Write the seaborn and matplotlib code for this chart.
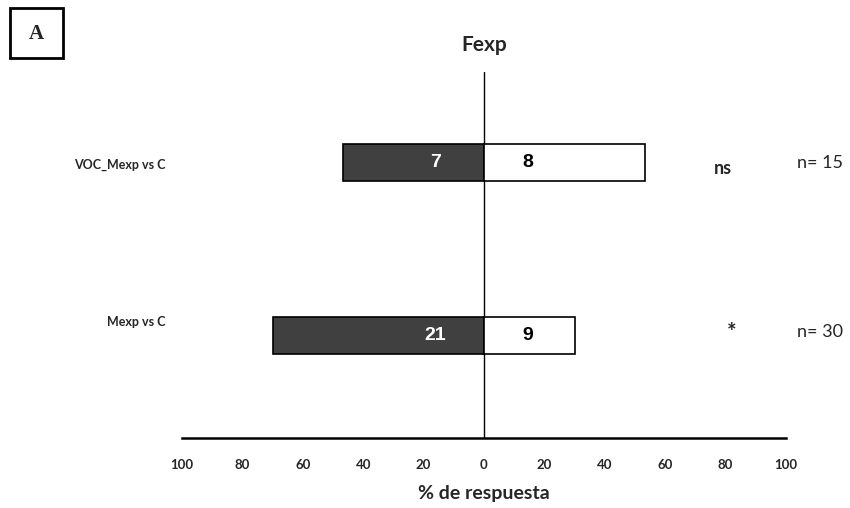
import matplotlib
matplotlib.use("Agg")
import matplotlib.pyplot as plt
import seaborn as sns
import pandas as pd
from matplotlib.patches import Rectangle
from matplotlib.ticker import FuncFormatter

categories = ["VOC_Mexp vs C", "Mexp vs C"]
left_counts = [7, 21]
right_counts = [8, 9]
totals = [15, 30]
signif = ["ns", "*"]
n_labels = ["n= 15", "n= 30"]
tick_values = [-100, -80, -60, -40, -20, 0, 20, 40, 60, 80, 100]

rows = []
for c, l, r, t in zip(categories, left_counts, right_counts, totals):
    rows.append({"cat": c, "side": "left", "pct": -100.0 * l / t})
    rows.append({"cat": c, "side": "right", "pct": 100.0 * r / t})
df = pd.DataFrame(rows)

sns.set_style("white")
plt.rcParams["font.family"] = ["Lato", "DejaVu Sans"]

fig = plt.figure(figsize=(8.5, 5.08), dpi=100)
ax = fig.add_axes([182 / 850, 1 - 438 / 508, 604 / 850, 366 / 508])

sns.barplot(data=df, x="pct", y="cat", hue="side", order=categories,
            palette={"left": "#404040", "right": "#ffffff"}, dodge=False,
            orient="h", width=0.214, edgecolor="black", linewidth=1.2,
            legend=False, ax=ax)

ax.set_xlim(-100, 100)
ax.set_ylim(1.59, -0.526)
ax.axvline(0, color="black", lw=1, zorder=0)

for s in ["top", "right", "left"]:
    ax.spines[s].set_visible(False)
ax.spines["bottom"].set_linewidth(1.8)
ax.spines["bottom"].set_color("black")

ax.set_xticks(tick_values)
ax.xaxis.set_major_formatter(FuncFormatter(lambda v, p: f"{abs(int(v))}"))
ax.tick_params(axis="x", length=0, pad=15, labelsize=9.5)
for lab in ax.get_xticklabels():
    lab.set_fontweight("bold")
ax.set_yticks([])
ax.set_ylabel("")
ax.set_xlabel("% de respuesta", fontsize=14, fontweight="bold", labelpad=10)
ax.set_title("Fexp", fontsize=15, fontweight="bold", pad=15)

label_dy = [0.01, -0.08]
for i, (c, l, r) in enumerate(zip(categories, left_counts, right_counts)):
    ax.text(-16, i, str(l), color="white", ha="center", va="center",
            fontsize=14, fontweight="bold", family=["Liberation Sans"])
    ax.text(14.5, i, str(r), color="black", ha="center", va="center",
            fontsize=14, fontweight="bold", family=["Liberation Sans"])
    ax.text(-105.5, i + label_dy[i], c, ha="right", va="center",
            fontsize=9, fontweight="bold")

ax.text(79, 0.03, signif[0], ha="center", va="center", fontsize=13, fontweight="bold")
ax.text(82, 0.98, signif[1], ha="center", va="center", fontsize=16, fontweight="bold")
for i, nl in enumerate(n_labels):
    ax.text(103.8, i + [0.0, -0.02][i], nl, ha="left", va="center", fontsize=13,
            clip_on=False)

fig.patches.append(Rectangle((10 / 850, 1 - 58 / 508), 53 / 850, 50 / 508,
                             transform=fig.transFigure, fill=False,
                             edgecolor="black", lw=2))
fig.text(36.5 / 850, 1 - 34 / 508, "A", ha="center", va="center", fontsize=15,
         fontweight="bold", family=["Liberation Serif"])

fig.savefig("out.png", dpi=100, facecolor="white")
